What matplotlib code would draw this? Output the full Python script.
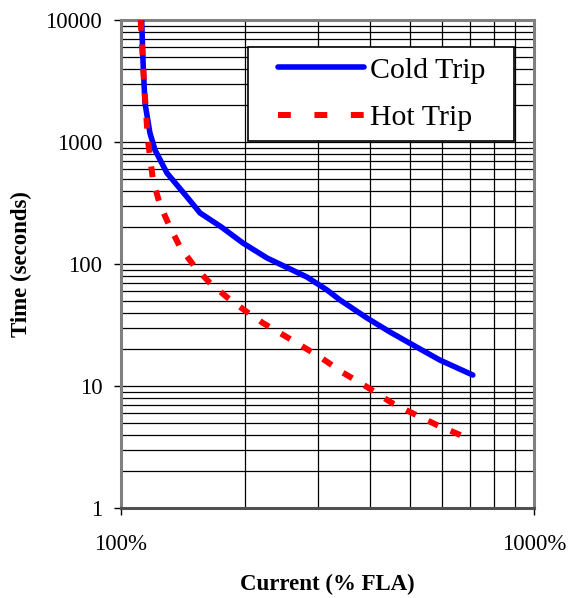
import matplotlib
matplotlib.use("Agg")
import matplotlib.pyplot as plt
from matplotlib.lines import Line2D
from matplotlib.patches import Rectangle
from matplotlib.ticker import FixedLocator, FuncFormatter, NullFormatter, LogLocator

# data (current in % FLA, time in seconds)
cold_current = [112.2, 113.2, 114.3, 117.5, 120.9, 129.2, 144.5, 155.4, 175, 197.3,
                225.7, 282, 315.4, 339, 394, 448, 509, 592, 711]
cold_time = [10000, 4120, 2089, 1186, 859, 557, 354, 262, 201, 148.6,
             112, 78.2, 61.2, 50.7, 36.1, 27.7, 21.7, 16.3, 12.3]

hot_current = [111.6, 113.7, 116.2, 119.5, 124.3, 131.4, 139, 151, 164.3, 181.6, 201.9,
               220.7, 242.6, 271.3, 303.3, 342.8, 394, 453, 506.7, 582, 707.5]
hot_time = [10000, 3045, 1038, 488, 305, 201, 137.7, 94.5, 69.8, 52.6, 40.4,
            32.8, 27.2, 21.7, 17.3, 13.0, 9.82, 7.26, 6.01, 4.79, 3.61]

series_names = ['Cold Trip', 'Hot Trip']
y_ticks = [1, 10, 100, 1000, 10000]
x_ticks = [100, 1000]

plt.rcParams['font.family'] = ['Liberation Serif', 'DejaVu Serif']

W, H = 568, 598
fig = plt.figure(figsize=(W / 100, H / 100), dpi=100)
ax = fig.add_axes([121 / W, 90 / H, 413 / W, 488 / H])

ax.plot(cold_current, cold_time, color='#0000ff', lw=4, solid_capstyle='round',
        zorder=3)
ax.plot(hot_current, hot_time, color='#ff0000', lw=4.3, dashes=(1.8, 2.3), zorder=3)

ax.set_xscale('log')
ax.set_yscale('log')
ax.set_xlim(100, 1000)
ax.set_ylim(1, 10000)

ax.xaxis.set_major_locator(FixedLocator(x_ticks))
ax.xaxis.set_major_formatter(FuncFormatter(lambda v, p: f"{v:.0f}%"))
ax.xaxis.set_minor_locator(LogLocator(base=10, subs=range(2, 10)))
ax.xaxis.set_minor_formatter(NullFormatter())
ax.yaxis.set_major_locator(FixedLocator(y_ticks))
ax.yaxis.set_major_formatter(FuncFormatter(lambda v, p: f"{v:.0f}"))
ax.yaxis.set_minor_locator(LogLocator(base=10, subs=range(2, 10)))
ax.yaxis.set_minor_formatter(NullFormatter())

ax.grid(True, which='both', color='black', lw=0.9)
ax.tick_params(which='minor', length=0)
ax.tick_params(axis='y', which='major', direction='out', length=5, width=1, pad=8.5,
               labelsize=16.5)
ax.tick_params(axis='x', which='major', direction='out', length=5, width=1, pad=14,
               labelsize=16.5)

for side in ['left', 'top', 'right', 'bottom']:
    ax.spines[side].set_color('#808080')
    ax.spines[side].set_linewidth(2.2)
ax.spines['bottom'].set_color('#505050')

ax.set_xlabel('Current (% FLA)', fontsize=16.5, fontweight='bold', labelpad=13)
ax.set_ylabel('Time (seconds)', fontsize=16.5, fontweight='bold', labelpad=10)

# legend box drawn separately so its padding can match the original
box = Rectangle((0.3075, 0.752), 0.9516 - 0.3075, 0.9447 - 0.752,
                transform=ax.transAxes, facecolor='white', edgecolor='black',
                lw=1.2, zorder=4)
ax.add_patch(box)
handles = [Line2D([], [], color='#0000ff', lw=4, solid_capstyle='round'),
           Line2D([], [], color='#ff0000', lw=4.3, dashes=(2.15, 3.95))]
leg = ax.legend(handles, series_names, loc='center left',
                bbox_to_anchor=((278 - 121) / 413, 1 - (94 - 20) / 488),
                borderaxespad=0, borderpad=0, fontsize=21.5, frameon=False,
                handlelength=2.87, handletextpad=0.2, labelspacing=0.68)
leg.set_zorder(5)

fig.savefig('out.png', dpi=100)
